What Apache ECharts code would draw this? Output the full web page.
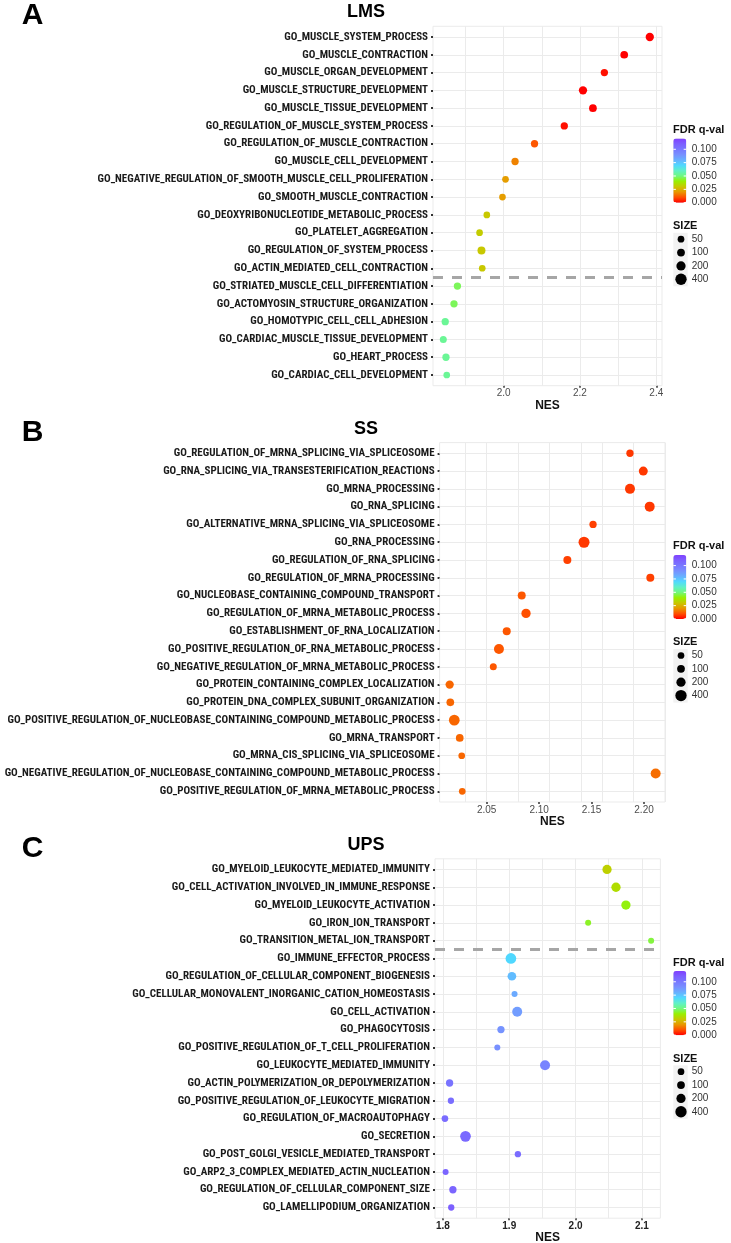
<!DOCTYPE html>
<html>
<head>
<meta charset="utf-8">
<script src="https://cdn.jsdelivr.net/npm/echarts@6/dist/echarts.min.js"></script>
<style>
html,body{margin:0;padding:0;background:#fff;}
#chart{width:731px;height:1243px;}
</style>
</head>
<body>
<div id="chart"></div>
<script>
// ---------- DATA ----------
const catsA = ['GO_MUSCLE_SYSTEM_PROCESS','GO_MUSCLE_CONTRACTION','GO_MUSCLE_ORGAN_DEVELOPMENT','GO_MUSCLE_STRUCTURE_DEVELOPMENT','GO_MUSCLE_TISSUE_DEVELOPMENT','GO_REGULATION_OF_MUSCLE_SYSTEM_PROCESS','GO_REGULATION_OF_MUSCLE_CONTRACTION','GO_MUSCLE_CELL_DEVELOPMENT','GO_NEGATIVE_REGULATION_OF_SMOOTH_MUSCLE_CELL_PROLIFERATION','GO_SMOOTH_MUSCLE_CONTRACTION','GO_DEOXYRIBONUCLEOTIDE_METABOLIC_PROCESS','GO_PLATELET_AGGREGATION','GO_REGULATION_OF_SYSTEM_PROCESS','GO_ACTIN_MEDIATED_CELL_CONTRACTION','GO_STRIATED_MUSCLE_CELL_DIFFERENTIATION','GO_ACTOMYOSIN_STRUCTURE_ORGANIZATION','GO_HOMOTYPIC_CELL_CELL_ADHESION','GO_CARDIAC_MUSCLE_TISSUE_DEVELOPMENT','GO_HEART_PROCESS','GO_CARDIAC_CELL_DEVELOPMENT'];
const nesA = [2.383,2.316,2.264,2.208,2.234,2.159,2.081,2.030,2.005,1.997,1.956,1.937,1.942,1.944,1.879,1.870,1.847,1.842,1.849,1.851];
const fdrA = [0.000,0.000,0.002,0.000,0.000,0.002,0.011,0.017,0.021,0.021,0.030,0.031,0.030,0.030,0.047,0.047,0.053,0.053,0.053,0.053];
const sizeA = [133,97,76,133,97,76,76,76,49,49,49,49,114,49,76,76,76,62,76,49];

const catsB = ['GO_REGULATION_OF_MRNA_SPLICING_VIA_SPLICEOSOME','GO_RNA_SPLICING_VIA_TRANSESTERIFICATION_REACTIONS','GO_MRNA_PROCESSING','GO_RNA_SPLICING','GO_ALTERNATIVE_MRNA_SPLICING_VIA_SPLICEOSOME','GO_RNA_PROCESSING','GO_REGULATION_OF_RNA_SPLICING','GO_REGULATION_OF_MRNA_PROCESSING','GO_NUCLEOBASE_CONTAINING_COMPOUND_TRANSPORT','GO_REGULATION_OF_MRNA_METABOLIC_PROCESS','GO_ESTABLISHMENT_OF_RNA_LOCALIZATION','GO_POSITIVE_REGULATION_OF_RNA_METABOLIC_PROCESS','GO_NEGATIVE_REGULATION_OF_MRNA_METABOLIC_PROCESS','GO_PROTEIN_CONTAINING_COMPLEX_LOCALIZATION','GO_PROTEIN_DNA_COMPLEX_SUBUNIT_ORGANIZATION','GO_POSITIVE_REGULATION_OF_NUCLEOBASE_CONTAINING_COMPOUND_METABOLIC_PROCESS','GO_MRNA_TRANSPORT','GO_MRNA_CIS_SPLICING_VIA_SPLICEOSOME','GO_NEGATIVE_REGULATION_OF_NUCLEOBASE_CONTAINING_COMPOUND_METABOLIC_PROCESS','GO_POSITIVE_REGULATION_OF_MRNA_METABOLIC_PROCESS'];
const nesB = [2.1866,2.1993,2.1866,2.2054,2.1514,2.1428,2.1269,2.2060,2.0834,2.0875,2.0691,2.0617,2.0563,2.0147,2.0153,2.0191,2.0243,2.0262,2.2111,2.0267];
const fdrB = [0.007,0.007,0.007,0.007,0.008,0.007,0.008,0.008,0.011,0.010,0.011,0.011,0.011,0.013,0.013,0.013,0.013,0.013,0.014,0.013];
const sizeB = [76,182,265,265,76,365,114,114,114,205,114,265,62,133,97,333,97,49,265,49];

const catsC = ['GO_MYELOID_LEUKOCYTE_MEDIATED_IMMUNITY','GO_CELL_ACTIVATION_INVOLVED_IN_IMMUNE_RESPONSE','GO_MYELOID_LEUKOCYTE_ACTIVATION','GO_IRON_ION_TRANSPORT','GO_TRANSITION_METAL_ION_TRANSPORT','GO_IMMUNE_EFFECTOR_PROCESS','GO_REGULATION_OF_CELLULAR_COMPONENT_BIOGENESIS','GO_CELLULAR_MONOVALENT_INORGANIC_CATION_HOMEOSTASIS','GO_CELL_ACTIVATION','GO_PHAGOCYTOSIS','GO_POSITIVE_REGULATION_OF_T_CELL_PROLIFERATION','GO_LEUKOCYTE_MEDIATED_IMMUNITY','GO_ACTIN_POLYMERIZATION_OR_DEPOLYMERIZATION','GO_POSITIVE_REGULATION_OF_LEUKOCYTE_MIGRATION','GO_REGULATION_OF_MACROAUTOPHAGY','GO_SECRETION','GO_POST_GOLGI_VESICLE_MEDIATED_TRANSPORT','GO_ARP2_3_COMPLEX_MEDIATED_ACTIN_NUCLEATION','GO_REGULATION_OF_CELLULAR_COMPONENT_SIZE','GO_LAMELLIPODIUM_ORGANIZATION'];
const nesC = [2.0475,2.061,2.076,2.019,2.114,1.9025,1.904,1.908,1.912,1.8875,1.882,1.954,1.810,1.812,1.803,1.834,1.913,1.804,1.815,1.8125];
const fdrC = [0.032,0.035,0.041,0.043,0.045,0.070,0.077,0.082,0.086,0.089,0.090,0.095,0.102,0.104,0.105,0.106,0.105,0.108,0.108,0.110];
const sizeC = [205,205,205,26,26,333,160,26,265,76,26,265,76,35,49,333,35,26,76,35];

// tick labels
const ticksA = [2.0, 2.2, 2.4];
const ticksB = [2.05, 2.10, 2.15, 2.20];
const ticksC = [1.8, 1.9, 2.0, 2.1];
const gridValsA = [1.9, 2.0, 2.1, 2.2, 2.3, 2.4];
const gridValsB = [2.0262, 2.0538, 2.0811, 2.1087, 2.1364, 2.1638, 2.1914, 2.2184];
const gridValsC = [1.8, 1.85, 1.9, 1.95, 2.0, 2.05, 2.1];
const fdrLegendTicks = [0.100, 0.075, 0.050, 0.025, 0.000];
const sizeLegend = [50, 100, 200, 400];
const titles = ['LMS', 'SS', 'UPS'];
const letters = ['A', 'B', 'C'];

// ---------- STYLE ----------
const fdrColors = ['#FF0000','#FF5000','#E89800','#C8C800','#98F000','#70F880','#60F0C8','#50D8FF','#68B0FF','#7890FF','#7878FF','#7C60FF','#8040FF'];
const fdrMax = 0.12;
function symSize(s){ return 4.2 + 0.356 * Math.sqrt(s); }

const panels = [
  {cats: catsA, nes: nesA, fdr: fdrA, size: sizeA, ticks: ticksA, gridVals: gridValsA, dec: 1,
   top: 26.3, left: 433, width: 229, xmin: 1.815, xmax: 2.415, dashed: 14.5, nameGap: 11, labColor: '#4D4D4D', labWeight: 'normal'},
  {cats: catsB, nes: nesB, fdr: fdrB, size: sizeB, ticks: ticksB, gridVals: gridValsB, dec: 2,
   top: 442.6, left: 439.6, width: 225.4, xmin: 2.0051, xmax: 2.22, dashed: null, nameGap: 14, labColor: '#4D4D4D', labWeight: 'normal'},
  {cats: catsC, nes: nesC, fdr: fdrC, size: sizeC, ticks: ticksC, gridVals: gridValsC, dec: 1,
   top: 858.8, left: 435, width: 225.4, xmin: 1.788, xmax: 2.128, dashed: 5.5, nameGap: 12, labColor: '#222', labWeight: 'bold'}
];
const H = 359.4;
const narrow = "'Roboto Condensed','DejaVu Sans Condensed',sans-serif";
const sans = "'Liberation Sans',Arial,sans-serif";

const grids = [], xAxes = [], yAxes = [], series = [], visualMaps = [], graphics = [];

panels.forEach((p, i) => {
  const rows = p.cats.map((c, k) => k + 1);
  grids.push({left: p.left, top: p.top, width: p.width, height: H, show: true, outerBoundsMode: 'none', containLabel: false,
    borderColor: '#EBEBEB', borderWidth: 1, backgroundColor: 'transparent'});
  xAxes.push({type: 'value', gridIndex: i, min: p.xmin, max: p.xmax,
    axisLine: {show: false}, splitLine: {show: false},
    axisTick: {show: true, customValues: p.ticks, length: 2, lineStyle: {color: '#333', width: 1.5}},
    axisLabel: {customValues: p.ticks, formatter: v => Number(v).toFixed(p.dec), fontSize: 10,
      fontFamily: sans, color: p.labColor, fontWeight: p.labWeight, margin: 3},
    name: 'NES', nameLocation: 'middle', nameGap: p.nameGap,
    nameTextStyle: {fontWeight: 'bold', fontSize: 12, fontFamily: sans, color: '#111'}});
  yAxes.push({type: 'value', gridIndex: i, inverse: true, min: 0.4, max: p.cats.length + 0.6,
    axisLine: {show: false}, splitLine: {show: false},
    axisTick: {show: true, customValues: rows, length: 2, lineStyle: {color: '#333', width: 2}},
    axisLabel: {customValues: rows, formatter: v => p.cats[Math.round(v) - 1] || '',
      fontFamily: narrow, fontWeight: 'bold', fontSize: 11, color: '#1A1A1A', margin: 5}});

  const mlData = p.gridVals.map(v => ({xAxis: v})).concat(rows.map(r => ({yAxis: r})));
  if (p.dashed !== null) {
    mlData.push({yAxis: p.dashed, lineStyle: {color: '#A6A6A6', width: 3, type: [10, 9]}});
  }
  series.push({type: 'scatter', xAxisIndex: i, yAxisIndex: i, z: 1, silent: true,
    symbolSize: 0, data: [[p.xmin, 1]], animation: false,
    markLine: {z: 1, silent: true, symbol: ['none', 'none'], label: {show: false}, animation: false,
      lineStyle: {color: '#EBEBEB', width: 1, type: 'solid'}, emphasis: {disabled: true}, data: mlData}});
  series.push({type: 'scatter', xAxisIndex: i, yAxisIndex: i, z: 10, animation: false,
    data: p.nes.map((v, k) => [v, k + 1, p.fdr[k], p.size[k]]),
    symbolSize: d => symSize(d[3]), itemStyle: {opacity: 1}});

  const barTop = p.top + 112.3, barH = 64.1, barX = 673.3, barW = 13;
  visualMaps.push({type: 'continuous', seriesIndex: 2 * i + 1, dimension: 2, min: 0, max: fdrMax,
    inRange: {color: fdrColors}, calculable: false, left: barX, top: barTop, itemWidth: barW, itemHeight: barH,
    padding: 0, text: null, showLabel: false, hoverLink: false});
  graphics.push({type: 'text', x: 673, y: p.top + 103.7, z: 100,
    style: {text: 'FDR q-val', font: 'bold 11px ' + sans, fill: '#111', textVerticalAlign: 'middle'}});
  fdrLegendTicks.forEach(v => {
    const y = barTop + barH * (1 - v / fdrMax);
    graphics.push({type: 'text', x: 691.7, y: y, z: 100,
      style: {text: v.toFixed(3), font: '10px ' + sans, fill: '#333', textVerticalAlign: 'middle'}});
    graphics.push({type: 'line', z: 100, shape: {x1: barX, y1: y, x2: barX + 2.6, y2: y}, style: {stroke: '#fff', lineWidth: 1}});
    graphics.push({type: 'line', z: 100, shape: {x1: barX + barW - 2.6, y1: y, x2: barX + barW, y2: y}, style: {stroke: '#fff', lineWidth: 1}});
  });
  graphics.push({type: 'text', x: 673, y: p.top + 199.7, z: 100,
    style: {text: 'SIZE', font: 'bold 11px ' + sans, fill: '#111', textVerticalAlign: 'middle'}});
  graphics.push({type: 'rect', z: 99, shape: {x: 673.3, y: p.top + 206.5, width: 14.4, height: 53.5}, style: {fill: '#F2F2F2'}});
  sizeLegend.forEach((s, k) => {
    const y = p.top + 212.9 + k * 13.35;
    graphics.push({type: 'circle', z: 100, shape: {cx: 681, cy: y, r: symSize(s) / 2}, style: {fill: '#000'}});
    graphics.push({type: 'text', x: 691.7, y: y, z: 100,
      style: {text: String(s), font: '10px ' + sans, fill: '#333', textVerticalAlign: 'middle'}});
  });
  graphics.push({type: 'text', x: 366, y: p.top - 13.8, z: 100,
    style: {text: titles[i], font: 'bold 18px ' + sans, fill: '#000', textAlign: 'center', textVerticalAlign: 'middle'}});
  graphics.push({type: 'text', x: 32.5, y: p.top - 10.3, z: 100,
    style: {text: letters[i], font: 'bold 30px ' + sans, fill: '#000', textAlign: 'center', textVerticalAlign: 'middle'}});
});

const chart = echarts.init(document.getElementById('chart'), null, {renderer: 'canvas'});
chart.setOption({
  backgroundColor: '#fff',
  animation: false,
  grid: grids, xAxis: xAxes, yAxis: yAxes, series: series,
  visualMap: visualMaps, graphic: graphics
});
</script>
</body>
</html>
